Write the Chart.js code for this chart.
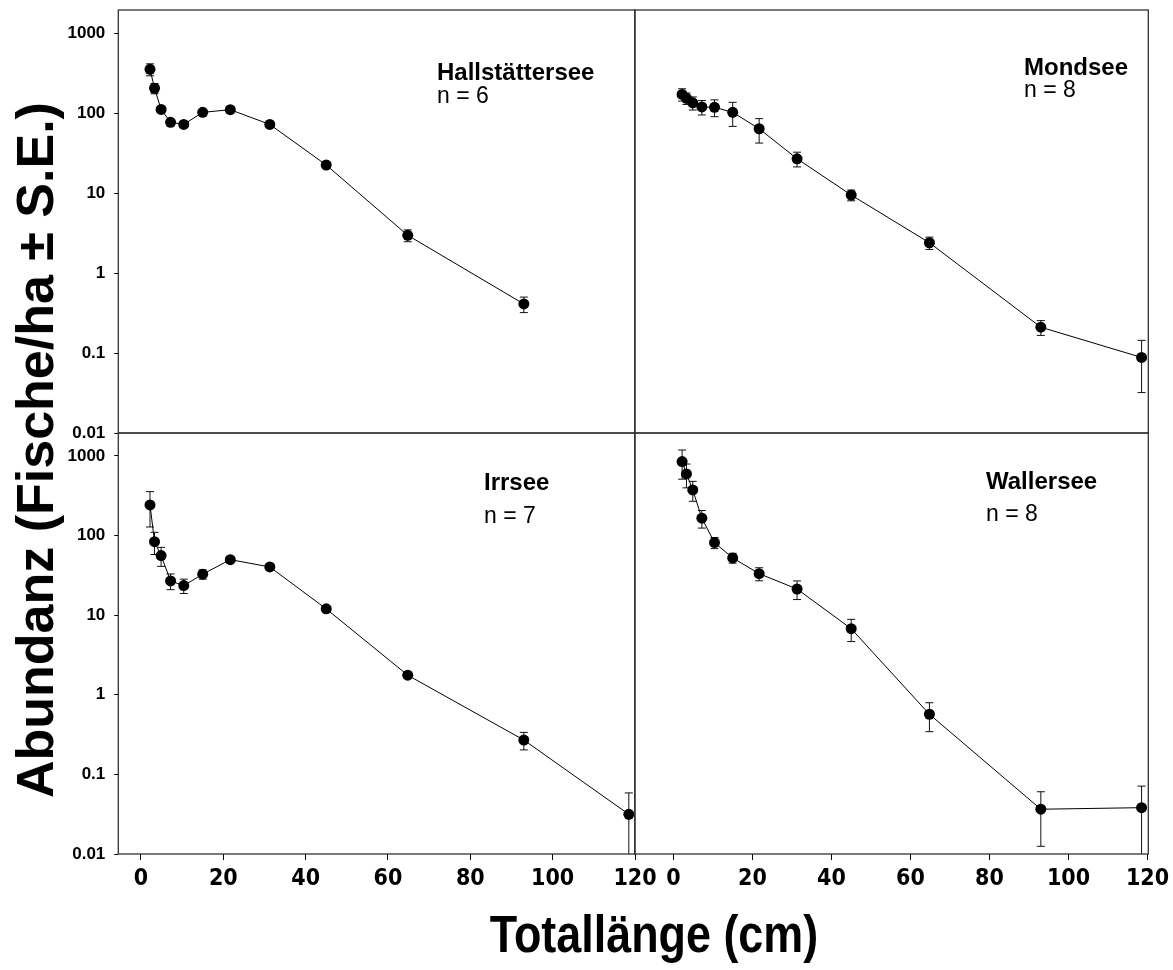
<!DOCTYPE html>
<html>
<head>
<meta charset="utf-8">
<script src="https://cdn.jsdelivr.net/npm/chart.js@4.4.1/dist/chart.umd.min.js"></script>
<style>
    body { margin: 0; background: #fff; width: 1173px; height: 970px; position: relative; overflow: hidden; }
    .panel { position: absolute; }
    .ytitle {
        position: absolute; left: 35px; top: 450px;
        transform: translate(-50%, -50%) rotate(-90deg);
        font: bold 52px 'Liberation Sans', Arial, sans-serif; line-height: 1; white-space: nowrap;
    }
    .xtitle {
        position: absolute; left: 654px; top: 909px;
        transform: translateX(-50%) scaleX(0.88);
        font: bold 51px 'Liberation Sans', Arial, sans-serif; line-height: 1; white-space: nowrap;
    }
</style>
</head>
<body>
<div class="panel" id="p-tl" style="left:0px;top:0px;width:665px;height:443px"><canvas id="hallstatt"></canvas></div>
<div class="panel" id="p-tr" style="left:624px;top:0px;width:549px;height:443px"><canvas id="mondsee"></canvas></div>
<div class="panel" id="p-bl" style="left:0px;top:423px;width:665px;height:491px"><canvas id="irrsee"></canvas></div>
<div class="panel" id="p-br" style="left:624px;top:423px;width:549px;height:491px"><canvas id="wallersee"></canvas></div>
<div class="ytitle">Abundanz (Fische/ha ± S.E.)</div>
<div class="xtitle">Totallänge (cm)</div>

<script>
// Längenklassen (cm) und Abundanzen je See
const lengthCm = [2.2, 3.3, 4.9, 7.2, 10.4, 15.0, 21.7, 31.3, 45.0, 64.8, 93.0, 118.5];

const hallstattMean = [352, 204, 111, 76.5, 72, 102, 110, 72, 22.4, 2.96, 0.41, null];
const hallstattSE   = [60, 30, 10, 6, 6, 8, 10, 6, 2, 0.5, 0.09, null];

const mondseeMean = [171, 153, 134, 119, 118, 102, 63.6, 26.8, 9.44, 2.39, 0.21, 0.088];
const mondseeSE   = [30, 25, 25, 24.5, 28, 34, 21.5, 5.6, 1.45, 0.42, 0.044, 0.056];

const irrseeMean = [242, 83.8, 56, 26.9, 23.5, 32.7, 49.8, 40.3, 12.0, 1.76, 0.27, 0.0315];
const irrseeSE   = [114, 26, 15, 6, 4.8, 4.4, 4, 3, 1, 0.15, 0.067, 0.027];

const wallerseeMean = [848, 594, 374, 165, 81.5, 52.4, 33.2, 21.3, 6.76, 0.569, 0.0365, 0.0382];
const wallerseeSE   = [338, 197, 105, 41, 13, 7.4, 6.2, 5.6, 2.1, 0.225, 0.024, 0.033];

const yTicks = [0.01, 0.1, 1, 10, 100, 1000];
const yTickLabels = ['0.01', '0.1', '1', '10', '100', '1000'];
const xTicks = [0, 20, 40, 60, 80, 100, 120];

const FONT = "'Liberation Sans', Arial, sans-serif";

// Fehlerbalken (± S.E.)
const errorBars = {
    id: 'errorBars',
    beforeDatasetsDraw(chart) {
        const { ctx, chartArea } = chart;
        const xs = chart.scales.x, ys = chart.scales.y;
        ctx.save();
        ctx.strokeStyle = '#111';
        ctx.lineWidth = 1;
        chart.data.datasets[0].data.forEach(p => {
            const px = xs.getPixelForValue(p.x);
            const top = ys.getPixelForValue(p.y + p.se);
            const low = p.y - p.se;
            const bottom = low > ys.min ? ys.getPixelForValue(low) : chartArea.bottom;
            ctx.beginPath();
            ctx.moveTo(px, top); ctx.lineTo(px, bottom);
            ctx.moveTo(px - 4, top); ctx.lineTo(px + 4, top);
            if (low > ys.min) { ctx.moveTo(px - 4, bottom); ctx.lineTo(px + 4, bottom); }
            ctx.stroke();
        });
        ctx.restore();
    }
};

// Rahmen und Seename
const frame = {
    id: 'frame',
    afterDraw(chart, args, o) {
        const { ctx, chartArea: a } = chart;
        ctx.save();
        ctx.strokeStyle = '#333';
        ctx.lineWidth = 1.3;
        ctx.strokeRect(a.left, a.top, a.right - a.left, a.bottom - a.top);
        ctx.fillStyle = '#000';
        ctx.textBaseline = 'alphabetic';
        ctx.textAlign = 'left';
        ctx.font = `bold 24px ${FONT}`;
        ctx.fillText(o.name, a.left + o.dx, a.top + o.dy);
        ctx.font = `23px ${FONT}`;
        ctx.fillText(o.n, a.left + o.dx, a.top + o.dy2);
        ctx.restore();
    }
};

function makePanel(id, mean, se, cfg) {
    const data = lengthCm
        .map((x, i) => ({ x: x, y: mean[i], se: se[i] }))
        .filter(p => p.y !== null);

    new Chart(document.getElementById(id), {
        type: 'line',
        data: {
            datasets: [{
                data: data,
                borderColor: '#000',
                borderWidth: 1,
                backgroundColor: '#000',
                pointBackgroundColor: '#000',
                pointBorderWidth: 0,
                pointRadius: 5.5,
                tension: 0,
                clip: false
            }]
        },
        options: {
            responsive: true,
            maintainAspectRatio: false,
            animation: false,
            layout: { padding: cfg.padding },
            plugins: {
                legend: { display: false },
                tooltip: { enabled: false },
                frame: { name: cfg.name, n: cfg.n, dx: cfg.dx, dy: cfg.dy, dy2: cfg.dy2 }
            },
            scales: {
                x: {
                    type: 'linear',
                    min: cfg.xMin,
                    max: cfg.xMax,
                    display: cfg.showX,
                    afterBuildTicks: s => { s.ticks = xTicks.map(v => ({ value: v })); },
                    afterFit: s => { s.height = cfg.showX ? 40 : 0; s.paddingLeft = 0; s.paddingRight = 0; },
                    border: { display: false },
                    grid: { drawOnChartArea: false, drawTicks: true, tickLength: 6, color: '#000' },
                    ticks: {
                        autoSkip: false,
                        maxRotation: 0,
                        padding: 5,
                        color: '#000',
                        font: { family: "'Liberation Sans Narrow', 'DejaVu Sans Condensed', " + FONT, size: 23, weight: 'bold' }
                    }
                },
                y: {
                    type: 'logarithmic',
                    min: 0.01,
                    max: 1940,
                    display: cfg.showY,
                    afterBuildTicks: s => { s.ticks = yTicks.map(v => ({ value: v })); },
                    afterFit: s => { s.width = cfg.showY ? 60 : 0; s.paddingTop = 0; s.paddingBottom = 0; },
                    border: { display: false },
                    grid: { drawOnChartArea: false, drawTicks: true, tickLength: 4, color: '#000' },
                    ticks: {
                        padding: 9,
                        color: '#000',
                        font: { family: FONT, size: 17, weight: 'bold' },
                        callback: v => yTickLabels[yTicks.indexOf(v)] ?? ''
                    }
                }
            }
        },
        plugins: [errorBars, frame]
    });
}

makePanel('hallstatt', hallstattMean, hallstattSE, {
    name: 'Hallstättersee', n: 'n = 6', dx: 318.7, dy: 70, dy2: 93,
    xMin: -5.5, xMax: 120, showX: false, showY: true,
    padding: { left: 58.3, top: 10, right: 30, bottom: 10 }
});
makePanel('mondsee', mondseeMean, mondseeSE, {
    name: 'Mondsee', n: 'n = 8', dx: 389.3, dy: 65, dy2: 87,
    xMin: -9.8, xMax: 120.2, showX: false, showY: false,
    padding: { left: 10.7, top: 10, right: 24.7, bottom: 10 }
});
makePanel('irrsee', irrseeMean, irrseeSE, {
    name: 'Irrsee', n: 'n = 7', dx: 365.7, dy: 57, dy2: 89.7,
    xMin: -5.5, xMax: 120, showX: true, showY: true,
    padding: { left: 58.3, top: 10, right: 30, bottom: 20 }
});
makePanel('wallersee', wallerseeMean, wallerseeSE, {
    name: 'Wallersee', n: 'n = 8', dx: 351.3, dy: 56.3, dy2: 87.7,
    xMin: -9.8, xMax: 120.2, showX: true, showY: false,
    padding: { left: 10.7, top: 10, right: 24.7, bottom: 20 }
});
</script>
</body>
</html>
